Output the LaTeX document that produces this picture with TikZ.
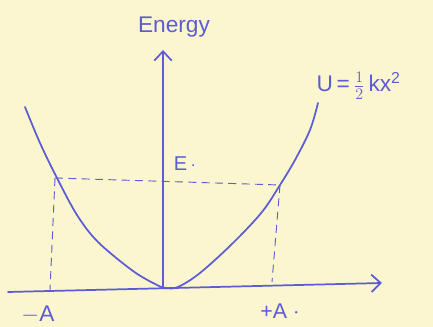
\documentclass[tikz,border=0pt]{standalone}
\usepackage{fontspec}
\setmainfont{Liberation Sans}
\usetikzlibrary{arrows.meta}
\definecolor{ink}{RGB}{92,92,212}
\definecolor{paper}{RGB}{251,246,208}
\tikzset{
  ink line/.style={draw=ink, line width=1.3pt, line cap=round, line join=round},
  guide/.style={draw=ink, line width=0.7pt, dash pattern=on 6pt off 4pt},
  axis arrow/.style={ink line, -{Straight Barb[length=7pt,width=13pt]}},
  lbl/.style={text=ink, inner sep=1pt}
}
\begin{document}
\begin{tikzpicture}[x=0.75pt,y=-0.75pt]
\fill[paper] (0,0) rectangle (433,327);
\useasboundingbox (0,0) rectangle (433,327);
% axes
\coordinate (xs) at (8,292);
\coordinate (xe) at (382,283);
\coordinate (ys) at (163,288);
\coordinate (ye) at (163,50);
\draw[axis arrow] (xs) -- (xe);
\draw[axis arrow] (ys) -- (ye);
% potential curve
\draw[ink line] plot[smooth, tension=0.55] coordinates {
  (25,107) (40,143) (57,178) (77,215) (98,242) (133,271) (157,285) (166,288)
  (178,287) (200,273) (233,243) (262,212) (280,185) (295,160) (310,130) (318,103)};
% turning points
\coordinate (pL) at (55,178);
\coordinate (pR) at (280,185);
\coordinate (fL) at (50,290);
\coordinate (fR) at (272,282);
\draw[guide] (pL) -- (pR);
\draw[guide] (pL) -- (fL);
\draw[guide] (pR) -- (fR);
% labels
\node[lbl, font=\fontsize{17}{19}\selectfont] (energy) at (174,27) {Energy};
\node[lbl, font=\fontsize{15}{17}\selectfont] (E) at (185,164) {E\,$\cdot$};
\node[lbl, font=\fontsize{17}{19}\selectfont, anchor=west] (U) at (315,86) {U\,=\,$\frac{1}{2}$\,kx\textsuperscript{2}};
\node[lbl, font=\fontsize{17}{19}\selectfont] (mA) at (38,315) {$-$A};
\node[lbl, font=\fontsize{16}{18}\selectfont] (pA) at (280,311) {+A $\cdot$};
\end{tikzpicture}
\end{document}
